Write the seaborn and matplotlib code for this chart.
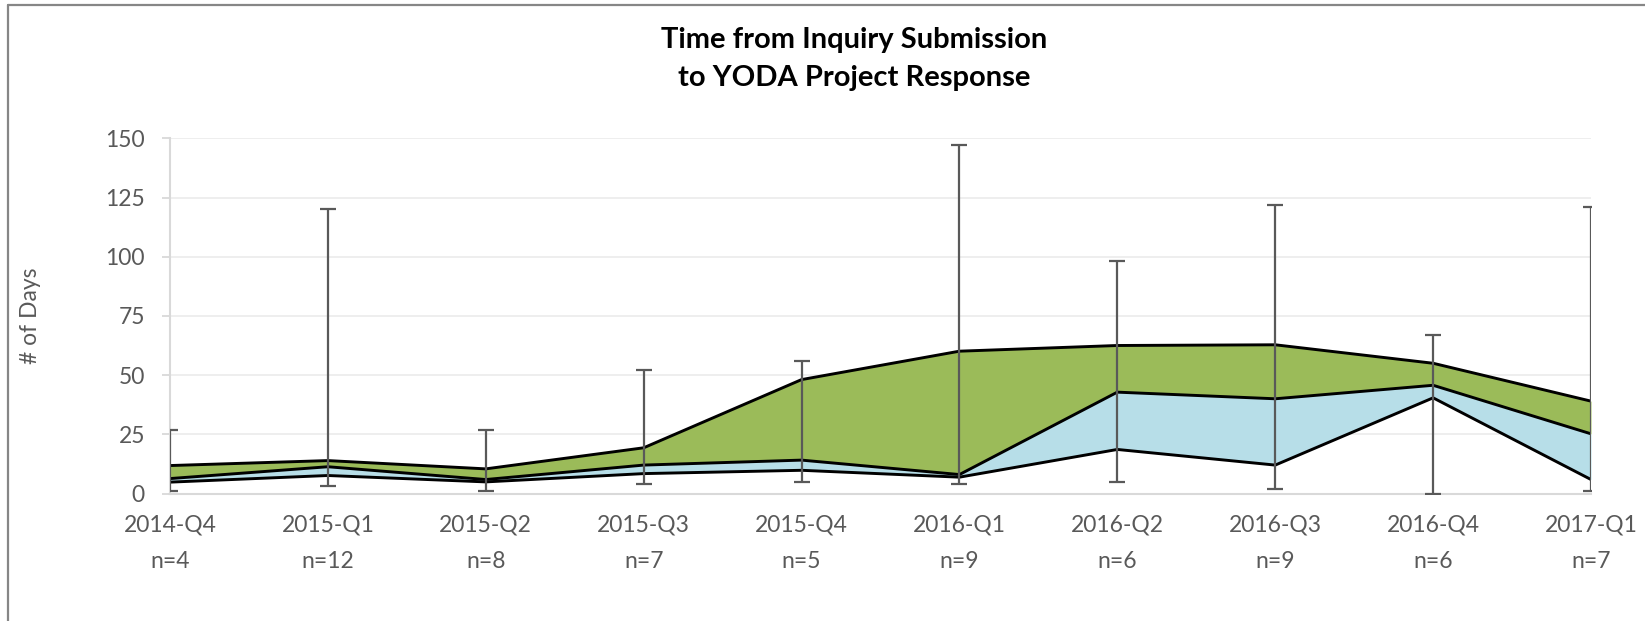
import numpy as np
import pandas as pd
import matplotlib
matplotlib.use("Agg")
import matplotlib.pyplot as plt
from matplotlib.lines import Line2D
import seaborn as sns

# ── Data ───────────────────────────────────────────────────────────────────
quarters = ["2014-Q4", "2015-Q1", "2015-Q2", "2015-Q3", "2015-Q4",
            "2016-Q1", "2016-Q2", "2016-Q3", "2016-Q4", "2017-Q1"]
n_counts = [4, 12, 8, 7, 5, 9, 6, 9, 6, 7]
q1_days = [4.8, 7.6, 4.9, 8.4, 9.8, 6.9, 18.6, 12.0, 40.4, 5.9]
median_days = [6.3, 11.3, 5.9, 12.0, 14.1, 8.0, 42.8, 40.0, 45.7, 25.2]
q3_days = [11.8, 13.9, 10.4, 19.3, 48.1, 60.1, 62.5, 62.8, 55.0, 39.0]
min_days = [1, 3, 1, 4, 5, 4, 5, 2, 0, 1]
max_days = [27, 120, 27, 52, 56, 147, 98, 122, 67, 121]

GREEN = "#9BBB59"
BLUE = "#B7DEE8"
GREY_TXT = "#595959"
GRID = "#EDEDED"
SPINE = "#D9D9D9"

df = pd.DataFrame({
    "pos": np.arange(len(quarters)),
    "q1": q1_days, "median": median_days, "q3": q3_days,
    "min": min_days, "max": max_days,
})

sns.set_theme(style="white")
plt.rcParams["font.family"] = ["Lato", "DejaVu Sans"]

fig = plt.figure(figsize=(16.45, 6.21), dpi=100)
ax = fig.add_axes([170 / 1645, 1 - 493.5 / 621, (1591 - 170) / 1645, (493.5 - 138.3) / 621])

# stacked bands
ax.fill_between(df.pos, df.q1, df["median"], color=BLUE, lw=0, zorder=2)
ax.fill_between(df.pos, df["median"], df.q3, color=GREEN, lw=0, zorder=2)
for col in ["q1", "median", "q3"]:
    sns.lineplot(data=df, x="pos", y=col, ax=ax, color="black", lw=2.1, zorder=3)

# min / max whiskers
ax.errorbar(df.pos, df["median"],
            yerr=[df["median"] - df["min"], df["max"] - df["median"]],
            fmt="none", ecolor=GREY_TXT, elinewidth=1.6, capsize=5.5,
            capthick=1.6, zorder=4)

ax.set_xlim(0, len(quarters) - 1)
ax.set_ylim(0, 150)
ax.set_yticks(np.arange(0, 151, 25))
ax.set_xticks(df.pos)
ax.set_xticklabels([f"{q}\nn={n}" for q, n in zip(quarters, n_counts)],
                   linespacing=1.9)
ax.grid(True, axis="y", color=GRID, lw=1.3, zorder=0)
ax.grid(False, axis="x")
ax.set_axisbelow(True)
for side in ["top", "right"]:
    ax.spines[side].set_visible(False)
for side in ["left", "bottom"]:
    ax.spines[side].set_color(SPINE)
    ax.spines[side].set_linewidth(1.5)
ax.tick_params(axis="y", length=6, width=1.3, color=SPINE, pad=12,
               labelsize=16.5, labelcolor=GREY_TXT, left=True)
ax.tick_params(axis="x", length=0, pad=15, labelsize=16.5, labelcolor=GREY_TXT)
ax.set_xlabel("")
ax.set_ylabel("# of Days", fontsize=16.5, color=GREY_TXT, labelpad=46)

fig.text(854 / 1645, 1 - 59 / 621, "Time from Inquiry Submission\nto YODA Project Response",
         ha="center", va="center", fontsize=21, fontweight="bold",
         color="black", linespacing=1.6)

# chart-area border (left and top edges visible)
fig.add_artist(Line2D([8 / 1645, 8 / 1645], [0, 1 - 5 / 621],
                      transform=fig.transFigure, color="#868686", lw=1.6))
fig.add_artist(Line2D([8 / 1645, 1], [1 - 5 / 621, 1 - 5 / 621],
                      transform=fig.transFigure, color="#868686", lw=1.6))

fig.savefig("out.png", dpi=100, facecolor="white")
